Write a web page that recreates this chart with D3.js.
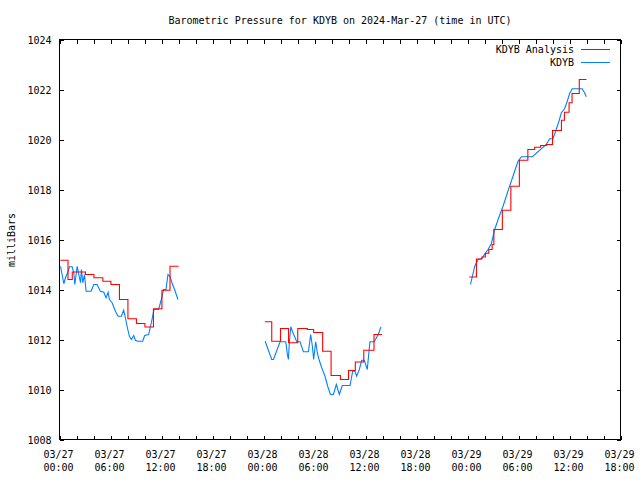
<!DOCTYPE html>
<html><head><meta charset="utf-8">
<script src="https://cdn.jsdelivr.net/npm/d3@7/dist/d3.min.js"></script>
<style>
body{margin:0;background:#fff}
svg{display:block}
text{font-family:"DejaVu Sans Mono",monospace;font-size:10px;fill:#000}
</style>
</head><body><svg id="c" width="640" height="480"></svg>
<script>
// ---- data ----
const chartTitle = "Barometric Pressure for KDYB on 2024-Mar-27 (time in UTC)";
const yLabel = "milliBars";
const seriesNames = ["KDYB Analysis", "KDYB"];
const seriesColors = ["#ff0000", "#0080ff"];
// hours since 03/27 00:00 UTC (null = gap)
const anaTimes = [0.1,1.0,1.5,3.05,4.05,5.1,6.05,7.05,8.05,9.05,10.05,11.05,12.05,13.0,14.0,null,
  24.15,24.97,26.0,26.95,28.03,29.15,29.9,30.96,31.95,33.05,34.0,34.8,35.8,37.0,37.95,null,
  48.2,49.05,49.7,50.1,50.5,50.9,51.1,52.1,53.1,54.1,55.1,55.9,56.6,57.3,58.0,59.05,59.4,59.95,60.3,61.15,62.0];
const anaPressure = [1015.17,1014.4,1014.7,1014.6,1014.47,1014.33,1014.2,1013.6,1012.83,1012.64,1012.5,1013.23,1013.97,1014.93,1014.93,null,
  1012.71,1011.93,1012.44,1011.87,1012.44,1012.4,1012.28,1011.53,1010.56,1010.4,1010.76,1011.1,1011.57,1012.2,1012.2,null,
  1014.5,1015.22,1015.3,1015.45,1015.6,1015.8,1016.4,1017.17,1018.13,1019.17,1019.6,1019.69,1019.76,1019.8,1020.36,1020.77,1021.09,1021.47,1021.84,1022.4,1022.4];
const obsTimes = [0.12,0.51,0.70,1.02,1.17,1.49,1.68,1.80,2.08,2.27,2.47,2.58,2.74,2.94,3.13,3.72,4.03,4.42,4.81,5.21,5.48,5.72,5.87,6.19,6.58,6.89,7.28,7.55,7.75,7.95,8.22,8.46,8.73,8.93,9.2,9.79,10.02,10.49,10.8,11.12,11.66,11.98,12.25,12.53,12.76,13.0,13.23,13.54,13.94,null,
  24.19,24.97,25.17,25.95,26.62,26.81,26.93,27.05,27.21,27.4,27.91,28.3,28.69,29.28,29.55,29.75,29.9,30.14,30.33,30.53,30.85,31.24,31.55,31.87,32.22,32.57,32.92,33.27,34.18,34.49,34.76,34.96,35.27,35.55,35.86,36.21,36.52,37.03,37.5,37.82,null,
  48.35,48.85,49.25,49.64,50.42,50.81,51.2,51.6,52.18,52.89,53.55,53.94,54.34,55.63,57.27,57.66,58.05,58.37,58.76,59.04,59.42,59.74,60.01,60.33,61.5,61.77,61.97];
const obsPressure = [1014.93,1014.23,1014.47,1014.73,1014.91,1014.91,1014.67,1014.2,1014.93,1014.6,1014.27,1014.8,1014.27,1014.6,1013.93,1013.93,1014.2,1014.2,1013.93,1013.89,1013.67,1013.89,1013.6,1013.47,1013.13,1012.93,1012.93,1013.17,1012.87,1012.53,1012.13,1012.0,1012.16,1011.97,1011.93,1011.93,1012.16,1012.2,1012.67,1013.2,1013.2,1013.6,1014.0,1014.0,1014.6,1014.53,1014.27,1014.0,1013.6,null,
  1011.93,1011.2,1011.2,1011.91,1011.91,1011.4,1011.2,1011.93,1012.51,1012.33,1011.91,1011.91,1011.51,1011.51,1012.2,1011.73,1011.2,1011.91,1011.47,1011.2,1010.87,1010.53,1010.13,1009.8,1009.8,1010.2,1009.8,1010.16,1010.16,1010.73,1010.73,1010.53,1010.8,1011.17,1011.17,1010.8,1011.91,1011.91,1012.2,1012.51,null,
  1014.2,1014.93,1015.2,1015.23,1015.6,1015.84,1016.4,1016.8,1017.33,1018.07,1018.73,1019.13,1019.31,1019.31,1019.8,1020.03,1020.03,1020.33,1020.73,1021.07,1021.23,1021.53,1021.84,1022.03,1022.03,1021.87,1021.71];
const xTickHours = [0,6,12,18,24,30,36,42,48,54,60,66];
const xTickDates = ["03/27","03/27","03/27","03/27","03/28","03/28","03/28","03/28","03/29","03/29","03/29","03/29"];
const xTickTimes = ["00:00","06:00","12:00","18:00","00:00","06:00","12:00","18:00","00:00","06:00","12:00","18:00"];
const xMinorHours = d3.range(0, 67, 2);
const yTicks = [1008,1010,1012,1014,1016,1018,1020,1022,1024];

// ---- chart ----
const svg = d3.select("#c");
const L = 59.5, R = 620.5, T = 39.5, B = 439.5;
const x = d3.scaleLinear().domain([0, 66]).range([L, R]);
const y = d3.scaleLinear().domain([1008, 1024]).range([B, T]);

svg.append("text").attr("x", 340).attr("y", 24).attr("text-anchor", "middle").text(chartTitle);

// ticks (inward, mirrored)
const gb = svg.append("g").attr("transform", `translate(0,${B})`)
  .call(d3.axisBottom(x).tickValues(xMinorHours).tickSize(-4).tickFormat(""));
const gt = svg.append("g").attr("transform", `translate(0,${T})`)
  .call(d3.axisTop(x).tickValues(xMinorHours).tickSize(-4).tickFormat(""));
const gl = svg.append("g").attr("transform", `translate(${L},0)`)
  .call(d3.axisLeft(y).tickValues(yTicks).tickSize(-4).tickPadding(8).tickFormat(d3.format("d")));
const gr = svg.append("g").attr("transform", `translate(${R},0)`)
  .call(d3.axisRight(y).tickValues(yTicks).tickSize(-4).tickFormat(""));
[gb, gt, gl, gr].forEach(g => {
  g.select(".domain").remove();
  g.selectAll("line").attr("stroke", "#000").attr("shape-rendering", "crispEdges");
  g.selectAll("text").attr("font-family", "DejaVu Sans Mono").attr("font-size", 10).attr("fill", "#000");
});
gl.selectAll("text").attr("dy", "0.35em");

// x labels
const xl = svg.append("g");
xTickHours.forEach((h, i) => {
  const t = xl.append("text").attr("text-anchor", "middle");
  t.append("tspan").attr("x", x(h) - 1).attr("y", 458).text(xTickDates[i]);
  t.append("tspan").attr("x", x(h) - 1).attr("y", 471).text(xTickTimes[i]);
});

// frame
svg.append("rect").attr("x", L).attr("y", T).attr("width", R - L).attr("height", B - T)
  .attr("fill", "none").attr("stroke", "#000").attr("shape-rendering", "crispEdges");

svg.append("text").attr("transform", "translate(15,240) rotate(-90)")
  .attr("text-anchor", "middle").text(yLabel);

// series
const anaData = anaTimes.map((t, i) => [t, anaPressure[i]]);
const obsData = obsTimes.map((t, i) => [t, obsPressure[i]]);
const defd = d => d[0] !== null && d[1] !== null;
const stepLine = d3.line().defined(defd).x(d => x(d[0])).y(d => y(d[1])).curve(d3.curveStepAfter);
const line = d3.line().defined(defd).x(d => x(d[0])).y(d => y(d[1]));

svg.append("path").datum(obsData).attr("d", line)
  .attr("fill", "none").attr("stroke", seriesColors[1]).attr("stroke-width", 1.1);
svg.append("path").datum(anaData).attr("d", stepLine)
  .attr("fill", "none").attr("stroke", seriesColors[0]).attr("stroke-width", 1.1);

// legend
seriesNames.forEach((n, i) => {
  const yy = 53 + i * 13;
  svg.append("text").attr("x", 574).attr("y", yy).attr("text-anchor", "end").text(n);
  svg.append("line").attr("x1", 581).attr("x2", 610).attr("y1", yy - 3.5).attr("y2", yy - 3.5)
    .attr("stroke", seriesColors[i]).attr("stroke-width", 1).attr("shape-rendering", "crispEdges");
});
</script></body></html>
